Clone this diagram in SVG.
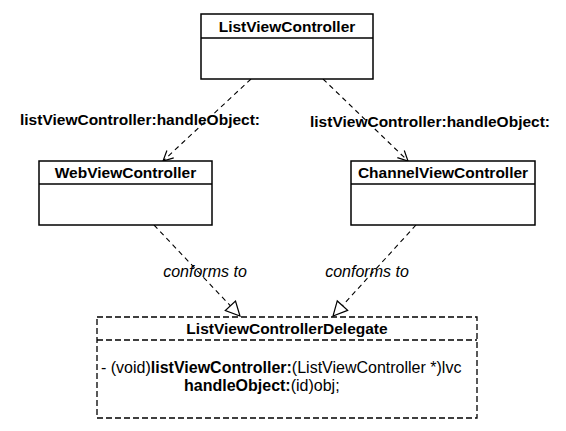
<svg xmlns="http://www.w3.org/2000/svg" width="566" height="431" viewBox="0 0 566 431">
<style>
  text { font-family: "Liberation Sans", Arial, Helvetica, sans-serif; fill: #000; }
  .title { font-size: 15.5px; font-weight: bold; text-anchor: middle; }
  .lbl { font-size: 15.5px; font-weight: bold; }
  .it { font-size: 16px; font-style: italic; text-anchor: middle; }
  .mt { font-size: 16px; }
  .b { font-weight: bold; }
  .box { fill: #fff; stroke: #000; stroke-width: 1.5; }
  .sep { stroke: #000; stroke-width: 1.5; }
  .dbox { fill: #fff; stroke: #000; stroke-width: 1.3; stroke-dasharray: 6 3; }
  .conn { fill: none; stroke: #000; stroke-width: 1.1; stroke-dasharray: 5 4; }
</style>
<defs>
  <marker id="open" markerUnits="userSpaceOnUse" markerWidth="14" markerHeight="14" viewBox="0 0 14 14" refX="12" refY="7" orient="auto">
    <path d="M2,2 L12,7 L2,12" fill="none" stroke="#000" stroke-width="1.2"/>
  </marker>
  <marker id="tri" markerUnits="userSpaceOnUse" markerWidth="18" markerHeight="18" viewBox="0 0 18 18" refX="16" refY="9" orient="auto">
    <path d="M2,2 L16,9 L2,16 Z" fill="#fff" stroke="#000" stroke-width="1.2"/>
  </marker>
</defs>

<g id="connectors">
  <path class="conn" d="M251,79 L163,161" marker-end="url(#open)"/>
  <path class="conn" d="M323,79 L408,161" marker-end="url(#open)"/>
  <path class="conn" d="M154,225 L240,316" marker-end="url(#tri)"/>
  <path class="conn" d="M416,225 L333,316" marker-end="url(#tri)"/>
  <text class="lbl" x="20" y="125">listViewController:handleObject:</text>
  <text class="lbl" x="310" y="127">listViewController:handleObject:</text>
  <text class="it" x="205" y="277">conforms to</text>
  <text class="it" x="367" y="277">conforms to</text>
</g>

<g id="ListViewController">
  <rect class="box" x="201" y="14" width="172" height="65"/>
  <line class="sep" x1="201" y1="38" x2="373" y2="38" stroke-width="2"/>
  <text class="title" x="287" y="32">ListViewController</text>
</g>

<g id="WebViewController">
  <rect class="box" x="39" y="161" width="173" height="64"/>
  <line class="sep" x1="39" y1="184" x2="212" y2="184"/>
  <text class="title" x="125.5" y="178">WebViewController</text>
</g>

<g id="ChannelViewController">
  <rect class="box" x="351" y="161" width="184" height="64"/>
  <line class="sep" x1="351" y1="184" x2="535" y2="184"/>
  <text class="title" x="443" y="178">ChannelViewController</text>
</g>

<g id="ListViewControllerDelegate">
  <rect class="dbox" x="97" y="317" width="380" height="101"/>
  <line class="dbox" x1="97" y1="340" x2="477" y2="340"/>
  <text class="title" x="287" y="334">ListViewControllerDelegate</text>
  <text class="mt" x="101" y="373">- (void)<tspan class="b">listViewController:</tspan>(ListViewController *)lvc</text>
  <text class="mt" x="184" y="391"><tspan class="b">handleObject:</tspan>(id)obj;</text>
</g>
</svg>
